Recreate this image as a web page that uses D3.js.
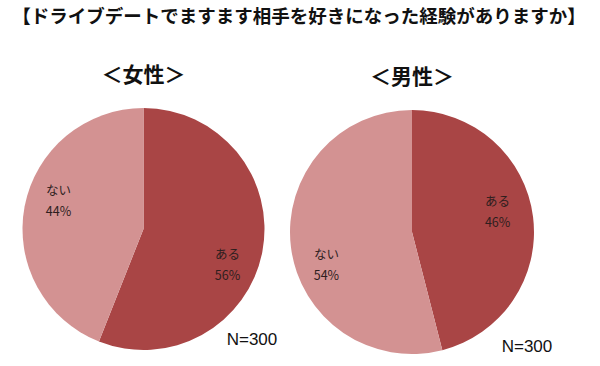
<!DOCTYPE html>
<html>
<head>
<meta charset="utf-8">
<script src="https://cdn.jsdelivr.net/npm/d3@7"></script>
<style>
  html, body { margin: 0; padding: 0; background: #fff; }
  svg { display: block; }
</style>
</head>
<body>
<svg id="chart"></svg>
<script>
// Data
const TITLE = '【ドライブデートでますます相手を好きになった経験がありますか】';
const GROUPS = ['女性', '男性'];
const CATEGORIES = ['ある', 'ない'];
const VALUES = {
  女性: [56, 44],
  男性: [46, 54],
};
const SAMPLE = 'N=300';

const COLORS = { ある: '#a94545', ない: '#d39292' };

// Layout per pie (centre, radius, label nudges)
const LAYOUT = {
  女性: { cx: 143.5, cy: 229, r: 121, titleY: 82, nX: 252, nY: 345, nudge: { ある: [-4, 17], ない: [3, -13] } },
  男性: { cx: 412, cy: 232, r: 122, titleY: 84, nX: 527, nY: 352, nudge: { ある: [-4, -11], ない: [4, 20] } },
};

const width = 600, height = 366;
const svg = d3.select('#chart')
  .attr('width', width)
  .attr('height', height)
  .attr('viewBox', `0 0 ${width} ${height}`);

svg.append('text')
  .attr('x', 299)
  .attr('y', 23)
  .attr('text-anchor', 'middle')
  .attr('font-family', '"Noto Sans CJK JP", sans-serif')
  .attr('font-weight', 'bold')
  .attr('font-size', 18.5)
  .attr('fill', '#111')
  .text(TITLE);

const pie = d3.pie().sort(null).value(d => d.value);

GROUPS.forEach(group => {
  const L = LAYOUT[group];
  const data = CATEGORIES.map((c, i) => ({ cat: c, value: VALUES[group][i] }));
  const arcs = pie(data);
  const arc = d3.arc().innerRadius(0).outerRadius(L.r);
  const labelArc = d3.arc().innerRadius(L.r * 0.74).outerRadius(L.r * 0.74);

  svg.append('text')
    .attr('x', L.cx)
    .attr('y', L.titleY)
    .attr('text-anchor', 'middle')
    .attr('font-family', '"Noto Sans CJK JP", sans-serif')
    .attr('font-weight', 'bold')
    .attr('font-size', 21)
    .attr('fill', '#111')
    .text(`＜${group}＞`);

  const g = svg.append('g').attr('transform', `translate(${L.cx},${L.cy})`);

  g.selectAll('path')
    .data(arcs)
    .join('path')
    .attr('d', arc)
    .attr('fill', d => COLORS[d.data.cat]);

  const lbl = g.selectAll('.lbl')
    .data(arcs)
    .join('text')
    .attr('class', 'lbl')
    .attr('text-anchor', 'middle')
    .attr('font-family', '"Noto Sans CJK JP", sans-serif')
    .attr('font-size', 12.5)
    .attr('fill', '#2e1e1e')
    .attr('transform', d => {
      const [x, y] = labelArc.centroid(d);
      const [nx, ny] = L.nudge[d.data.cat];
      return `translate(${x + nx},${y + ny})`;
    });

  lbl.append('tspan').attr('x', 0).attr('dy', -4).text(d => d.data.cat);
  lbl.append('tspan').attr('x', 0).attr('dy', 21).text(d => `${d.data.value}%`);

  svg.append('text')
    .attr('x', L.nX)
    .attr('y', L.nY)
    .attr('text-anchor', 'middle')
    .attr('font-family', '"Liberation Sans", Arial, sans-serif')
    .attr('font-size', 17)
    .attr('fill', '#111')
    .text(SAMPLE);
});
</script>
</body>
</html>
